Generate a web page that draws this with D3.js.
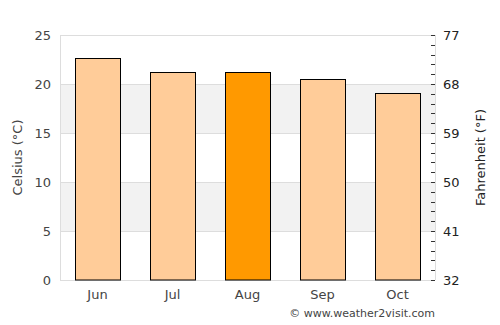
<!DOCTYPE html>
<html>
<head>
<meta charset="utf-8">
<script src="https://cdn.jsdelivr.net/npm/d3@7"></script>
<style>
  body { margin: 0; background: #fff; }
  text { font-family: "DejaVu Sans", sans-serif; fill: #444; }
</style>
</head>
<body>
<svg id="chart" width="500" height="325"></svg>
<script>
// data
var months = ["Jun", "Jul", "Aug", "Sep", "Oct"];
var celsius = [22.7, 21.2, 21.2, 20.5, 19.1];
var highlight = "Aug";
var cTicks = [0, 5, 10, 15, 20, 25];
var fTicks = [32, 41, 50, 59, 68, 77];

var margin = { top: 35, right: 65, bottom: 45, left: 60 };
var width = 500 - margin.left - margin.right,
	height = 325 - margin.top - margin.bottom;

var svg = d3.select("#chart");
var g = svg.append("g")
	.attr("transform", "translate(" + margin.left + "," + margin.top + ")");

var x = d3.scaleBand()
	.domain(months)
	.range([0, width])
	.paddingInner(0.4)
	.paddingOuter(0.2);

var y = d3.scaleLinear()
	.domain([0, 25])
	.range([height, 0]);

var yF = d3.scaleLinear()
	.domain([32, 77])
	.range([height, 0]);

// alternating grey bands
var bands = [[5, 10], [15, 20]];
g.selectAll("rect.band")
	.data(bands)
	.enter()
	.append("rect")
	.attr("class", "band")
	.attr("x", 0)
	.attr("width", width)
	.attr("y", function(d) { return y(d[1]); })
	.attr("height", function(d) { return y(d[0]) - y(d[1]); })
	.attr("fill", "#f2f2f2");

// grid lines
g.selectAll("line.grid")
	.data(cTicks)
	.enter()
	.append("line")
	.attr("class", "grid")
	.attr("x1", 0)
	.attr("x2", width)
	.attr("y1", function(d) { return Math.round(y(d)) + 0.5; })
	.attr("y2", function(d) { return Math.round(y(d)) + 0.5; })
	.attr("stroke", "#dddddd");

// frame sides
g.append("line")
	.attr("x1", 0.5).attr("x2", 0.5)
	.attr("y1", 0).attr("y2", height)
	.attr("stroke", "#dddddd");
g.append("line")
	.attr("x1", width + 0.5).attr("x2", width + 0.5)
	.attr("y1", 0).attr("y2", height)
	.attr("stroke", "#dddddd");

// minor ticks on the right (every 1 °C = 1.8 °F)
var minor = d3.range(0, 26, 1);
g.selectAll("line.minor")
	.data(minor)
	.enter()
	.append("line")
	.attr("class", "minor")
	.attr("x1", width - 4)
	.attr("x2", width)
	.attr("y1", function(d) { return Math.round(y(d)) + 0.5; })
	.attr("y2", function(d) { return Math.round(y(d)) + 0.5; })
	.attr("stroke", "#333");

// bars
g.selectAll("rect.bar")
	.data(months)
	.enter()
	.append("rect")
	.attr("class", "bar")
	.attr("x", function(d) { return Math.round(x(d)) + 0.5; })
	.attr("width", Math.round(x.bandwidth()))
	.attr("y", function(d, i) { return Math.round(y(celsius[i])) + 0.5; })
	.attr("height", function(d, i) { return height - Math.round(y(celsius[i])) - 0.5; })
	.attr("fill", function(d) { return d == highlight ? "#ff9900" : "#ffcc99"; })
	.attr("stroke", "#000")
	.attr("stroke-width", 1);

// left labels
g.selectAll("text.cl")
	.data(cTicks)
	.enter()
	.append("text")
	.attr("class", "cl")
	.attr("x", -9)
	.attr("y", function(d) { return y(d); })
	.attr("dy", "0.35em")
	.attr("text-anchor", "end")
	.style("font-size", "13px")
	.text(function(d) { return d; });

// right labels
g.selectAll("text.fl")
	.data(fTicks)
	.enter()
	.append("text")
	.attr("class", "fl")
	.attr("x", width + 8)
	.attr("y", function(d) { return yF(d); })
	.attr("dy", "0.35em")
	.style("font-size", "13px")
	.style("fill", "#222")
	.text(function(d) { return d; });

// month labels
g.selectAll("text.ml")
	.data(months)
	.enter()
	.append("text")
	.attr("class", "ml")
	.attr("x", function(d) { return x(d) + x.bandwidth() / 2; })
	.attr("y", height + 19)
	.attr("text-anchor", "middle")
	.style("font-size", "13px")
	.text(function(d) { return d; });

// axis titles
svg.append("text")
	.attr("transform", "translate(22," + (margin.top + height / 2) + ") rotate(-90)")
	.attr("text-anchor", "middle")
	.style("font-size", "13px")
	.text("Celsius (°C)");

svg.append("text")
	.attr("transform", "translate(485," + (margin.top + height / 2) + ") rotate(-90)")
	.attr("text-anchor", "middle")
	.style("font-size", "13px")
	.style("fill", "#222")
	.text("Fahrenheit (°F)");

svg.append("text")
	.attr("x", 435)
	.attr("y", 317)
	.attr("text-anchor", "end")
	.style("font-size", "11px")
	.text("© www.weather2visit.com");
</script>
</body>
</html>
